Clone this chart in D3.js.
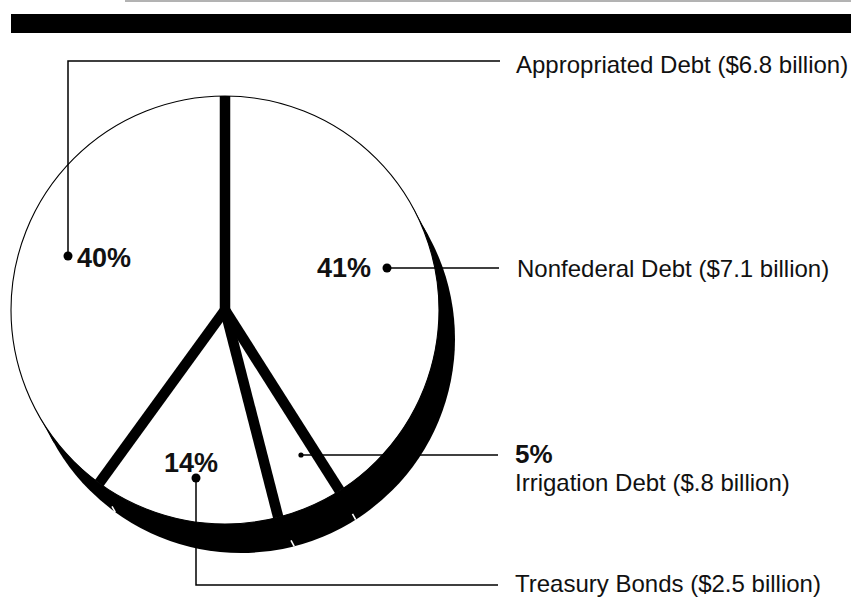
<!DOCTYPE html>
<html>
<head>
<meta charset="utf-8">
<script src="https://cdn.jsdelivr.net/npm/d3@7"></script>
<style>
  html, body { margin: 0; padding: 0; background: #fff; }
  svg { display: block; }
  text { font-family: "Liberation Sans", Arial, Helvetica, sans-serif; fill: #111; }
</style>
</head>
<body>
<svg id="chart" width="851" height="600"></svg>
<script>
// Debt categories, clockwise from 12 o'clock
const categories = ["Nonfederal Debt", "Irrigation Debt", "Treasury Bonds", "Appropriated Debt"];
const percents   = [41, 5, 14, 40];
const billions   = ["$7.1", "$.8", "$2.5", "$6.8"];

const W = 851, H = 600;
const cx = 225, cy = 310, R = 214;      // pie centre and radius
const depth = [16, 29];                 // extrusion offset of the pie's side
const sepWidth = 10.5;                  // slice separator thickness

// label anchors: dot on the slice, leader route, text position
const callouts = [
  { dot: [387, 268], dotR: 4.5, route: [[387, 268], [499, 268]],
    pct: [317, 277], pctSize: 27, text: [517, 277] },
  { dot: [301, 455], dotR: 2.6, route: [[301, 455], [498, 455]],
    pct: [515, 463], pctSize: 26, text: [515, 491] },
  { dot: [196, 478], dotR: 4.5, route: [[196, 478], [196, 585], [498, 585]],
    pct: [164, 472], pctSize: 27, text: [515, 592] },
  { dot: [68, 256], dotR: 4.5, route: [[68, 256], [68, 61], [500, 61]],
    pct: [77, 267], pctSize: 27, text: [516, 73] }
];

const data = categories.map((c, i) => ({ name: c, pct: percents[i], amt: billions[i] }));

const svg = d3.select("#chart");

// header rules
svg.append("line").attr("x1", 125).attr("x2", W).attr("y1", 1).attr("y2", 1)
  .attr("stroke", "#666").attr("stroke-width", 1);
svg.append("rect").attr("x", 11).attr("y", 14).attr("width", W - 11).attr("height", 19)
  .attr("fill", "#000");

const pie = d3.pie().sort(null).value(d => d.pct).startAngle(0).endAngle(2 * Math.PI);
const arcs = pie(data);
const arc = d3.arc().innerRadius(0).outerRadius(R);

const g = svg.append("g").attr("transform", `translate(${cx},${cy})`);

// side of the disc: shifted disc plus the band joining it to the face
const [dx, dy] = depth;
const dl = Math.hypot(dx, dy);
const px = -dy / dl * R, py = dx / dl * R;  // perpendicular radius
g.append("circle").attr("cx", dx).attr("cy", dy).attr("r", R).attr("fill", "#000");
g.append("path")
  .attr("d", d3.line()([[px, py], [px + dx, py + dy], [-px + dx, -py + dy], [-px, -py]]))
  .attr("fill", "#000");

// white slice faces
g.selectAll("path.slice").data(arcs).join("path")
  .attr("class", "slice")
  .attr("d", arc)
  .attr("fill", "#fff");

// rim outline
g.append("circle").attr("r", R).attr("fill", "none")
  .attr("stroke", "#000").attr("stroke-width", 1.1);

const rimPt = (a, r) => [r * Math.sin(a), -r * Math.cos(a)];

// slice edges on the side wall
g.selectAll("line.edge").data(arcs.filter(d => {
    const [x, y] = rimPt(d.startAngle, R);
    return x * dx + y * dy > 0;          // only edges on the visible side
  })).join("line")
  .attr("class", "edge")
  .each(function (d) {
    const [x, y] = rimPt(d.startAngle, R);
    d3.select(this)
      .attr("x1", x + dx).attr("y1", y + dy)
      .attr("x2", x + dx * 0.8).attr("y2", y + dy * 0.8);
  })
  .attr("stroke", "#fff").attr("stroke-width", 1.6);

// thick separators between slices
g.selectAll("line.sep").data(arcs).join("line")
  .attr("class", "sep")
  .attr("x1", 0).attr("y1", 0)
  .attr("x2", d => rimPt(d.startAngle, R)[0])
  .attr("y2", d => rimPt(d.startAngle, R)[1])
  .attr("stroke", "#000").attr("stroke-width", sepWidth).attr("stroke-linecap", "butt");
g.append("circle").attr("r", sepWidth / 2).attr("fill", "#000");

// callouts
const co = svg.append("g");
data.forEach((d, i) => {
  const c = callouts[i];
  co.append("path")
    .attr("d", d3.line()(c.route))
    .attr("fill", "none").attr("stroke", "#000").attr("stroke-width", 1.5);
  co.append("circle").attr("cx", c.dot[0]).attr("cy", c.dot[1]).attr("r", c.dotR)
    .attr("fill", "#000");
  co.append("text")
    .attr("x", c.pct[0]).attr("y", c.pct[1])
    .attr("font-size", c.pctSize).attr("font-weight", "bold")
    .text(d.pct + "%");
  co.append("text")
    .attr("x", c.text[0]).attr("y", c.text[1])
    .attr("font-size", 24)
    .text(`${d.name} (${d.amt} billion)`);
});
</script>
</body>
</html>
